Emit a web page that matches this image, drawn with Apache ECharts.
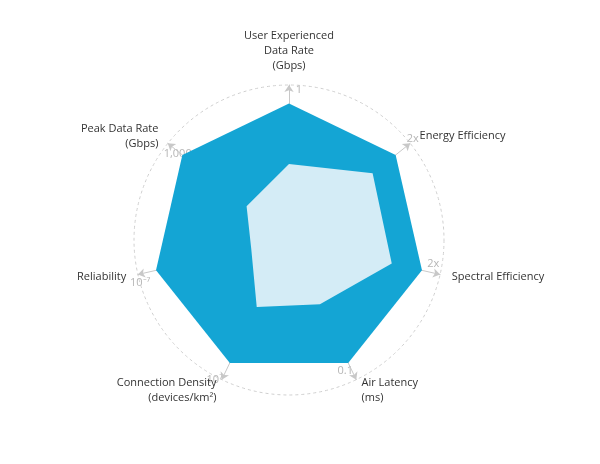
<!DOCTYPE html>
<html>
<head>
<meta charset="utf-8">
<script src="https://cdn.jsdelivr.net/npm/echarts@6/dist/echarts.min.js"></script>
<style>html,body{margin:0;background:#fff}#c{width:600px;height:464px}</style>
</head>
<body>
<div id="c"></div>
<script>
// indicators, counterclockwise from the top
const indicators = [
  'User Experienced\nData Rate\n(Gbps)',
  'Peak Data Rate\n(Gbps)',
  'Reliability',
  'Connection Density\n(devices/km²)',
  'Air Latency\n(ms)',
  'Spectral Efficiency',
  'Energy Efficiency'
]
const values6G = [88, 88, 88, 88, 88, 88, 88]
const values5G = [49, 35, 25, 48, 46, 68, 69]
const outerTicks = ['1', '1,000', '10⁻⁷', '10⁷', '0.1', '2x', '2x']
const innerTicks = ['0.1', '20', '10⁻⁵', '10⁶', '1', '1x', '1x']
const midTicks = [null, '100', '10⁻⁶', null, null, null, null]

const cx = 289, cy = 240, R = 155
const chart = echarts.init(document.getElementById('c'), null, { renderer: 'canvas' })

function pos(i, v, off) {
  const a = (90 + i * 360 / 7) * Math.PI / 180
  const r = v / 100 * R
  // perpendicular offset to sit labels beside the axis
  const px = Math.cos(a + Math.PI / 2) * off, py = -Math.sin(a + Math.PI / 2) * off
  return [cx + r * Math.cos(a) - px, cy - r * Math.sin(a) + py]
}

const texts = []
function addText(i, v, s, color, off) {
  const [x, y] = pos(i, v, off)
  texts.push({ type: 'text', x, y, style: { text: s, fill: color, font: '11px "Open Sans", sans-serif', align: 'center', verticalAlign: 'middle' } })
}
outerTicks.forEach((s, i) => addText(i, 97, s, '#b5b5b5', 10))
innerTicks.forEach((s, i) => addText(i, values5G[i] + 4, s, '#ffffff', 9))
midTicks.forEach((s, i) => { if (s) addText(i, 60, s, '#ffffff', 9) })
texts.push({ type: 'text', x: 245, y: 143, style: { text: '6G', fill: '#fff', font: 'bold 12px "Open Sans", sans-serif', align: 'center', verticalAlign: 'middle' } })
texts.push({ type: 'text', x: 271, y: 197, style: { text: '5G', fill: '#1aa3d3', font: '12px "Open Sans", sans-serif', align: 'center', verticalAlign: 'middle' } })

chart.setOption({
  animation: false,
  radar: {
    center: [cx, cy],
    radius: R,
    startAngle: 90,
    splitNumber: 4,
    shape: 'circle',
    indicator: indicators.map(n => ({ name: n, max: 100 })),
    axisName: { color: '#333', fontSize: 11, fontFamily: 'Open Sans', lineHeight: 15 },
    nameGap: 12,
    axisLine: { symbol: ['none', 'arrow'], symbolSize: [7, 7], lineStyle: { color: '#c8c8c8', width: 1 } },
    splitLine: { lineStyle: { color: '#cfcfcf', type: [3, 3] } },
    splitArea: { show: false }
  },
  series: [{
    type: 'radar',
    symbol: 'none',
    z: 1,
    data: [
      { value: values6G, lineStyle: { width: 0 }, areaStyle: { color: '#14a5d4', opacity: 1 } },
      { value: values5G, lineStyle: { width: 0 }, areaStyle: { color: '#d4ecf6', opacity: 1 } }
    ]
  }],
  graphic: texts
})
</script>
</body>
</html>
